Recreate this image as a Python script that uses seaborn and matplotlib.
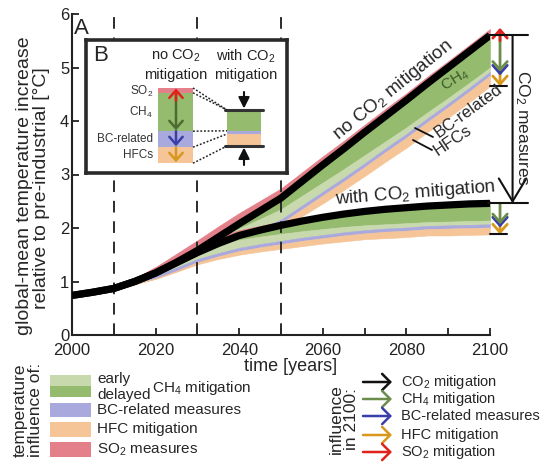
import numpy as np
import pandas as pd
import matplotlib
matplotlib.use("Agg")
import matplotlib.pyplot as plt
import seaborn as sns
from matplotlib.patches import Rectangle

# ---- temperature pathways (°C above pre-industrial) ----
years = [2000, 2005, 2010, 2015, 2020, 2025, 2030, 2035, 2040, 2045, 2050,
         2055, 2060, 2065, 2070, 2075, 2080, 2085, 2090, 2095, 2100]
ref_no_co2 = [0.74, 0.80, 0.87, 1.00, 1.16, 1.36, 1.58, 1.83, 2.08, 2.32, 2.56,
              2.87, 3.18, 3.48, 3.79, 4.09, 4.39, 4.70, 5.00, 5.30, 5.60]
ref_with_co2 = [0.74, 0.80, 0.87, 1.00, 1.16, 1.35, 1.54, 1.71, 1.86, 1.96, 2.05,
                2.13, 2.20, 2.26, 2.31, 2.35, 2.38, 2.41, 2.43, 2.45, 2.46]

# warming from SO2 measures (added on top of the reference)
so2_no_co2 = [0, 0, 0.02, 0.06, 0.11, 0.16, 0.19, 0.20, 0.20, 0.19, 0.18,
              0.17, 0.16, 0.15, 0.14, 0.14, 0.13, 0.13, 0.12, 0.12, 0.12]
so2_with_co2 = [0, 0, 0.02, 0.06, 0.11, 0.14, 0.14, 0.12, 0.10, 0.08, 0.07,
                0.06, 0.05, 0.05, 0.05, 0.05, 0.05, 0.05, 0.05, 0.05, 0.05]
# cooling from delayed CH4 mitigation, extra cooling when CH4 is cut early
ch4_delayed_no_co2 = [0, 0, 0, 0, 0, 0, 0, 0.04, 0.09, 0.15, 0.21,
                      0.27, 0.33, 0.38, 0.43, 0.47, 0.51, 0.54, 0.57, 0.59, 0.60]
ch4_early_no_co2 = [0, 0, 0, 0.02, 0.05, 0.09, 0.13, 0.16, 0.18, 0.19, 0.19,
                    0.18, 0.17, 0.16, 0.15, 0.13, 0.12, 0.11, 0.10, 0.09, 0.08]
ch4_delayed_with_co2 = [0, 0, 0, 0, 0, 0, 0, 0.04, 0.08, 0.12, 0.16,
                        0.19, 0.22, 0.24, 0.26, 0.28, 0.29, 0.30, 0.31, 0.32, 0.32]
ch4_early_with_co2 = [0, 0, 0, 0.02, 0.05, 0.09, 0.12, 0.14, 0.15, 0.14, 0.13,
                      0.12, 0.11, 0.10, 0.09, 0.08, 0.08, 0.07, 0.07, 0.07, 0.07]
# cooling from BC-related measures and HFC mitigation
bc_no_co2 = [0, 0, 0.01, 0.03, 0.05, 0.06, 0.07, 0.07, 0.07, 0.07, 0.07,
             0.07, 0.07, 0.07, 0.07, 0.07, 0.07, 0.07, 0.07, 0.07, 0.07]
bc_with_co2 = [0, 0, 0.01, 0.03, 0.05, 0.06, 0.06, 0.06, 0.06, 0.06, 0.06,
               0.06, 0.06, 0.06, 0.06, 0.06, 0.06, 0.06, 0.06, 0.06, 0.06]
hfc_no_co2 = [0, 0, 0, 0, 0.01, 0.02, 0.04, 0.06, 0.08, 0.10, 0.12,
              0.13, 0.15, 0.16, 0.17, 0.18, 0.19, 0.19, 0.20, 0.20, 0.20]
hfc_with_co2 = [0, 0, 0, 0, 0.01, 0.02, 0.04, 0.05, 0.07, 0.08, 0.09,
                0.10, 0.10, 0.11, 0.11, 0.12, 0.12, 0.12, 0.13, 0.13, 0.13]

policy_years = [2010, 2030, 2050]

# schematic magnitudes for panel B (no CO2 / with CO2 mitigation)
inset_labels = ["SO$_2$", "CH$_4$", "BC-related", "HFCs"]
inset_no_co2 = [0.3, 2.4, 1.0, 1.0]
inset_with_co2 = [0.0, 1.3, 0.2, 0.75]

legend_band_labels = ["early", "delayed", "BC-related measures", "HFC mitigation", "SO$_2$ measures"]
legend_arrow_labels = ["CO$_2$ mitigation", "CH$_4$ mitigation", "BC-related measures",
                       "HFC mitigation", "SO$_2$ mitigation"]

# ---- style ----
sns.set_style("ticks")
plt.rcParams["font.family"] = ["Liberation Sans", "DejaVu Sans"]
plt.rcParams["mathtext.fontset"] = "custom"
plt.rcParams["mathtext.rm"] = "Liberation Sans"
plt.rcParams["mathtext.it"] = "Liberation Sans:italic"
plt.rcParams["mathtext.bf"] = "Liberation Sans:bold"

C_SO2 = "#e4808a"
C_CH4_D = "#95bc6e"
C_CH4_E = "#c9d9ae"
C_BC = "#a9a9de"
C_HFC = "#f5c497"
A_CO2 = "#111111"
A_CH4 = "#6c8c4c"
A_BC = "#3a3ea8"
A_HFC = "#d9981c"
A_SO2 = "#e1221c"
band_colors = [C_CH4_E, C_CH4_D, C_BC, C_HFC, C_SO2]
arrow_colors = [A_CO2, A_CH4, A_BC, A_HFC, A_SO2]

W, H = 544, 466
fig = plt.figure(figsize=(W / 100, H / 100), dpi=100)


def fig_rect(x0, y0, x1, y1):
    return [x0 / W, 1 - y1 / H, (x1 - x0) / W, (y1 - y0) / H]


ax = fig.add_axes(fig_rect(72, 14, 490, 335))
ax.set_xlim(2000, 2100)
ax.set_ylim(0, 6)

yrs = np.array(years)


def draw_bands(ref, so2, ch4_del, ch4_early, bc, hfc):
    ref = np.asarray(ref)
    top = ref + np.asarray(so2)
    b1 = ref - np.asarray(ch4_del)
    b2 = b1 - np.asarray(ch4_early)
    b3 = b2 - np.asarray(bc)
    b4 = b3 - np.asarray(hfc)
    kw = dict(linewidth=0.4, zorder=1)
    ax.fill_between(yrs, ref, top, color=C_SO2, **kw)
    ax.fill_between(yrs, b1, ref, color=C_CH4_D, **kw)
    ax.fill_between(yrs, b2, b1, color=C_CH4_E, **kw)
    ax.fill_between(yrs, b3, b2, color=C_BC, **kw)
    ax.fill_between(yrs, b4, b3, color=C_HFC, **kw)
    return top[-1], b1[-1], b2[-1], b3[-1], b4[-1]


ends_no = draw_bands(ref_no_co2, so2_no_co2, ch4_delayed_no_co2, ch4_early_no_co2,
                     bc_no_co2, hfc_no_co2)
ends_with = draw_bands(ref_with_co2, so2_with_co2, ch4_delayed_with_co2,
                       ch4_early_with_co2, bc_with_co2, hfc_with_co2)

for yr in policy_years:
    ax.axvline(yr, color="#2b2b2b", lw=1.4, ls=(0, (6, 4.5)), zorder=2)

df = pd.DataFrame({
    "year": years * 2,
    "temp": ref_no_co2 + ref_with_co2,
    "scenario": ["no CO2"] * len(years) + ["with CO2"] * len(years),
})
sns.lineplot(data=df, x="year", y="temp", hue="scenario",
             palette={"no CO2": "black", "with CO2": "black"},
             lw=5.2, legend=False, ax=ax, zorder=3, solid_capstyle="butt")

ax.set_xticks([2000, 2020, 2040, 2060, 2080, 2100])
ax.set_xticks([2010, 2030, 2050, 2070, 2090], minor=True)
ax.set_yticks(range(0, 7))
ax.tick_params(which="both", direction="in", length=5, width=1.3, labelsize=12,
               colors="#222222")
ax.tick_params(axis="x", pad=6)
ax.tick_params(axis="y", pad=2)
for s in ["top", "right"]:
    ax.spines[s].set_visible(False)
for s in ["left", "bottom"]:
    ax.spines[s].set_linewidth(1.5)
    ax.spines[s].set_color("#222222")
ax.set_xlabel("time [years]", fontsize=13, fontweight="normal")
ax.xaxis.set_label_coords(0.524, -0.073)
ax.set_ylabel("")

# ---- end-of-century brackets and arrows ----
x_col = 2102.4
x_br = 2105.4


def seg_arrow(axis, x, y0, y1, color, lw=2.0, ms=13, style="->,head_length=0.45,head_width=0.4"):
    axis.annotate("", xy=(x, y1), xytext=(x, y0),
                  arrowprops=dict(arrowstyle=style, color=color, lw=lw,
                                  mutation_scale=ms, shrinkA=0, shrinkB=0),
                  annotation_clip=False, zorder=6)


for ref, ends in [(ref_no_co2[-1], ends_no), (ref_with_co2[-1], ends_with)]:
    top, b1, b2, b3, b4 = ends
    seg_arrow(ax, x_col, b2, b4, A_HFC)
    seg_arrow(ax, x_col, b1, b3, A_BC)
    seg_arrow(ax, x_col, ref, b2, A_CH4)
    if ref == ref_no_co2[-1]:
        seg_arrow(ax, x_col, ref - 0.1, top + 0.02, A_SO2)
    ax.plot([2100, 2104], [b4, b4], color="#111111", lw=1.5, clip_on=False, zorder=6)

for v in [ref_no_co2[-1], ref_with_co2[-1]]:
    ax.plot([2099.6, 2109.2], [v, v], color="#111111", lw=1.5, clip_on=False, zorder=6)
seg_arrow(ax, x_br, ref_no_co2[-1], ref_with_co2[-1], "#111111", lw=1.5, ms=22,
          style="->,head_length=0.75,head_width=0.45")

# ---- overlay in figure pixels for annotations and legends ----
ov = fig.add_axes([0, 0, 1, 1], zorder=3)
ov.set_xlim(0, W)
ov.set_ylim(H, 0)
ov.axis("off")

ov.text(25, 186, "global-mean temperature increase", rotation=90, fontsize=14,
        ha="center", va="center")
ov.text(42, 188, "relative to pre-industrial [°C]", rotation=90, fontsize=14,
        ha="center", va="center")
ov.text(81, 28, "A", fontsize=16, ha="center", va="center")
ov.text(522, 128, "CO$_2$ measures", rotation=-90, fontsize=12.5, ha="center", va="center")
ov.text(393, 90, "no CO$_2$ mitigation", rotation=39, fontsize=13.5, ha="center",
        va="center", rotation_mode="anchor")
ov.text(415, 193, "with CO$_2$ mitigation", rotation=4.5, fontsize=13.5, ha="center",
        va="center", rotation_mode="anchor")
ov.text(455, 80, "CH$_4$", rotation=32, fontsize=11, ha="center", va="center",
        color="#3e5a2a", rotation_mode="anchor")
ov.text(468, 111, "BC-related", rotation=36, fontsize=12, ha="center", va="center",
        rotation_mode="anchor")
ov.text(453, 140, "HFCs", rotation=34, fontsize=12, ha="center", va="center",
        rotation_mode="anchor")
ov.plot([415, 433], [128, 137], color="#111111", lw=1.3)
ov.plot([413, 432], [140, 150], color="#111111", lw=1.3)

# band legend
ov.text(28, 410, "temperature\ninfluence of:", rotation=90, fontsize=12.5, ha="center",
        va="center", linespacing=1.05)
band_rows = [(375, 11), (386, 11), (403, 14), (422, 15), (442, 15)]
for (y0, h), c in zip(band_rows, band_colors):
    ov.add_patch(Rectangle((50, y0), 41, h, color=c, lw=0))
ov.text(97, 379, legend_band_labels[0], fontsize=11, va="center")
ov.text(97, 395, legend_band_labels[1], fontsize=11, va="center")
ov.text(152, 388, "CH$_4$ mitigation", fontsize=11, va="center")
for (y0, h), lab in zip(band_rows[2:], legend_band_labels[2:]):
    ov.text(97, y0 + h / 2, lab, fontsize=11, va="center")

# arrow legend
ov.text(344, 419, "influence\nin 2100:", rotation=90, fontsize=12.5, ha="center",
        va="center", linespacing=1.05)
for yy, c, lab in zip([382, 399, 416, 435, 452], arrow_colors, legend_arrow_labels):
    ov.annotate("", xy=(392, yy), xytext=(363, yy),
                arrowprops=dict(arrowstyle="->,head_length=0.45,head_width=0.45",
                                color=c, lw=1.8, mutation_scale=13, shrinkA=0, shrinkB=0))
    ov.text(401, yy, lab, fontsize=10.5, va="center")

# ---- panel B ----
axb = fig.add_axes(fig_rect(86, 40, 287, 173), zorder=4)
axb.set_xlim(86, 287)
axb.set_ylim(173, 40)
axb.set_xticks([])
axb.set_yticks([])
for s in axb.spines.values():
    s.set_linewidth(2.6)
    s.set_color("#2a2a2a")

unit = 16.0
seg_colors = [C_SO2, C_CH4_D, C_BC, C_HFC]
left_bounds = [88.0]
for v in inset_no_co2:
    left_bounds.append(left_bounds[-1] + v * unit)
right_bounds = [110.0]
for v in inset_with_co2:
    right_bounds.append(right_bounds[-1] + v * unit)

for i, c in enumerate(seg_colors):
    axb.add_patch(Rectangle((158, left_bounds[i]), 35, left_bounds[i + 1] - left_bounds[i],
                            color=c, lw=0))
    if inset_with_co2[i] > 0:
        axb.add_patch(Rectangle((227, right_bounds[i]), 34,
                                right_bounds[i + 1] - right_bounds[i], color=c, lw=0))
for yb in [right_bounds[0], right_bounds[-1]]:
    axb.plot([225, 263], [yb, yb], color="#333333", lw=2.2)
for yl, yr in zip(left_bounds, right_bounds):
    axb.plot([193, 227], [yl, yr], color="#222222", lw=1.1, ls=(0, (1.2, 1.2)))

for lab, y0, y1 in zip(inset_labels, left_bounds[:-1], left_bounds[1:]):
    yc = max((y0 + y1) / 2, 91)
    axb.text(153, yc, lab, fontsize=8.5, ha="right", va="center", color="#333333")

seg_arrow(axb, 176, left_bounds[3], left_bounds[4] - 1, A_HFC, lw=1.8, ms=12)
seg_arrow(axb, 176, left_bounds[2], left_bounds[3] - 1, A_BC, lw=1.8, ms=12)
seg_arrow(axb, 176, left_bounds[1], left_bounds[2] - 1, "#4d6b30", lw=1.8, ms=12)
seg_arrow(axb, 176, left_bounds[1] + 8, left_bounds[0] + 0.5, A_SO2, lw=1.8, ms=12)

seg_arrow(axb, 244, 92, 108.5, "#111111", lw=1.5, ms=11, style="-|>,head_length=0.6,head_width=0.3")
seg_arrow(axb, 244, 165, 147.5, "#111111", lw=1.5, ms=11, style="-|>,head_length=0.6,head_width=0.3")

axb.text(101, 55, "B", fontsize=16, ha="center", va="center")
axb.text(176, 56, "no CO$_2$", fontsize=10.5, ha="center", va="center", color="#222222")
axb.text(176, 75, "mitigation", fontsize=10.5, ha="center", va="center", color="#222222")
axb.text(246, 56, "with CO$_2$", fontsize=10.5, ha="center", va="center", color="#222222")
axb.text(246, 75, "mitigation", fontsize=10.5, ha="center", va="center", color="#222222")

fig.savefig("out.png", dpi=100)
